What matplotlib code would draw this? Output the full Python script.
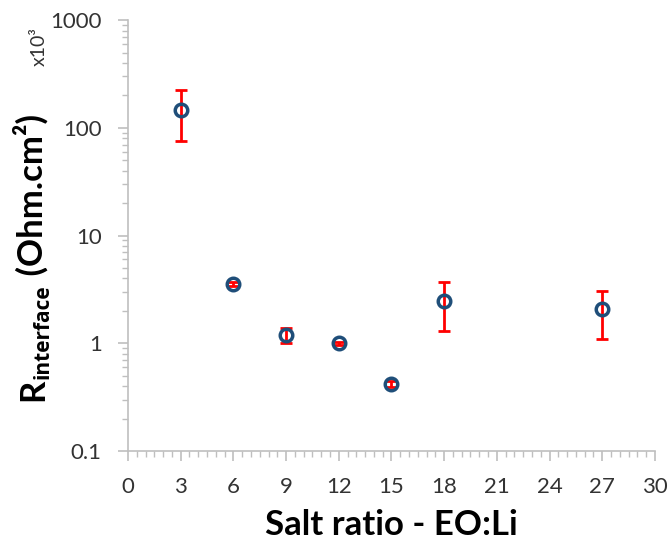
import numpy as np
import matplotlib.pyplot as plt
from matplotlib.ticker import LogLocator, MultipleLocator, NullFormatter
from matplotlib.transforms import IdentityTransform

# data (x10^3 Ohm.cm2)
salt_ratio = [3, 6, 9, 12, 15, 18, 27]
r_interface = [146, 3.55, 1.19, 1.0, 0.42, 2.47, 2.08]
err_low = [71, 0.12, 0.19, 0.03, 0.03, 1.17, 0.98]
err_high = [77, 0.12, 0.21, 0.03, 0.03, 1.23, 0.97]

x_ticks = [0, 3, 6, 9, 12, 15, 18, 21, 24, 27, 30]
y_ticks = [0.1, 1, 10, 100, 1000]
y_ticklabels = ["0.1", "1", "10", "100", "1000"]

plt.rcParams['font.family'] = ['Lato', 'DejaVu Sans']

fig = plt.figure(figsize=(6.71, 5.43), dpi=100)
ax = fig.add_axes([0.1908, 0.1694, 0.7852, 0.7936])

ax.errorbar(salt_ratio, r_interface, yerr=[err_low, err_high], fmt='none',
            ecolor='#ff0000', elinewidth=2, capsize=4, capthick=2, zorder=2)
ax.plot(salt_ratio, r_interface, 'o', mfc='none', mec='#1f4e79', mew=2.5,
        ms=9, zorder=3)

ax.set_yscale('log')
ax.set_ylim(0.1, 1000)
ax.set_xlim(0, 30)
ax.set_yticks(y_ticks)
ax.set_yticklabels(y_ticklabels)
ax.yaxis.set_minor_locator(LogLocator(base=10, subs=np.arange(2, 10)))
ax.yaxis.set_minor_formatter(NullFormatter())
ax.set_xticks(x_ticks)
ax.xaxis.set_minor_locator(MultipleLocator(0.5))

for side in ['top', 'right']:
    ax.spines[side].set_visible(False)
for side in ['left', 'bottom']:
    ax.spines[side].set_color('#bfbfbf')
    ax.spines[side].set_linewidth(1.2)

ax.tick_params(which='major', direction='out', length=7, width=1.2,
               color='#bfbfbf', labelsize=16, labelcolor='#333333', pad=12)
ax.tick_params(which='minor', direction='out', length=4, width=1,
               color='#bfbfbf')

ax.set_xlabel('Salt ratio - EO:Li', fontsize=25, fontweight='bold', labelpad=8)

# y label built from pieces (upright bold subscript), rotated 90 deg
renderer = fig.canvas.get_renderer()
pieces = [("R", 25, 0, 'Lato'), ("interface", 15, 6, 'Open Sans'),
          (" (Ohm.cm²)", 25, 0, 'Lato')]
base_x = 43
texts = []
for s, size, shift, fam in pieces:
    t = fig.text(base_x + shift, 0, s, fontsize=size, fontweight='bold',
                 fontstyle='normal', family=fam, rotation=90,
                 rotation_mode='anchor', ha='left', va='baseline',
                 transform=IdentityTransform())
    texts.append(t)
lengths = [t.get_window_extent(renderer).height for t in texts]
y = 0.525 * 543 - sum(lengths) / 2
for t, L in zip(texts, lengths):
    t.set_y(y)
    y += L

fig.text(0.058, 0.915, 'x10³', rotation=90, fontsize=14,
         color='#333333', ha='center', va='center')

fig.savefig('out.png', dpi=100)
